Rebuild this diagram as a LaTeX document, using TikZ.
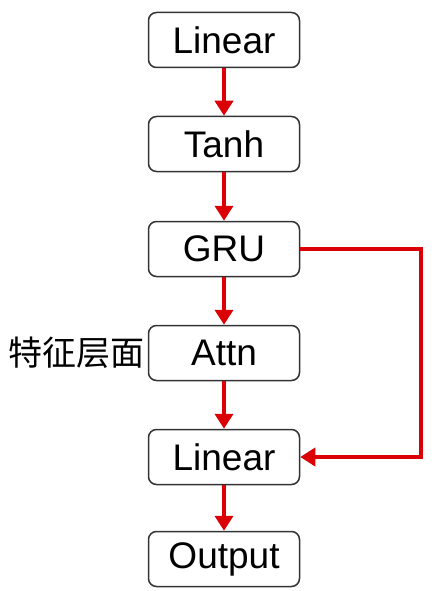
\documentclass[tikz,border=0pt]{standalone}
\usepackage{fontspec}
\setmainfont{Liberation Sans}
\newfontfamily\cjk{Noto Sans CJK SC}
\usepackage{tikz}
\usetikzlibrary{arrows.meta,calc,positioning}
\definecolor{darkred}{rgb}{0.86,0,0.02}

\begin{document}
\begin{tikzpicture}[x=1pt,y=-1pt,
    layer/.style={draw=black!80, line width=1.5pt, rounded corners=8pt, fill=white,
        minimum width=151pt, minimum height=55pt, inner sep=0pt,
        font=\fontsize{37}{40}\selectfont},
    flow/.style={-{Triangle[length=15pt,width=18pt]}, line width=4pt, draw=darkred}]
            \useasboundingbox (0,0) rectangle (438,591);
            \def\cx{224}
            %Layers
            \node[layer] (x1) at (\cx,40) {Linear};
            \node[layer] (x2) at (\cx,144) {Tanh};
            \node[layer] (x3) at (\cx,249) {GRU};
            \node[layer] (x4) at (\cx,353) {Attn};
            \node[layer] (x5) at (\cx,457) {Linear};
            \node[layer] (x6) at (\cx,559) {Output};
            %Label
            \node[anchor=east, inner sep=0pt, font=\cjk\fontsize{34}{36}\selectfont] (lbl) at ($(x4.west)+(-3,0)$) {特征层面};
            %Draw arrows
            \draw[flow] (x1) -- (x2);
            \draw[flow] (x2) -- (x3);
            \draw[flow] (x3) -- (x4);
            \draw[flow] (x4) -- (x5);
            \draw[flow] (x5) -- (x6);
            \draw[flow] (x3.east) -- ++(121,0) |- (x5.east);
        \end{tikzpicture}
\end{document}
